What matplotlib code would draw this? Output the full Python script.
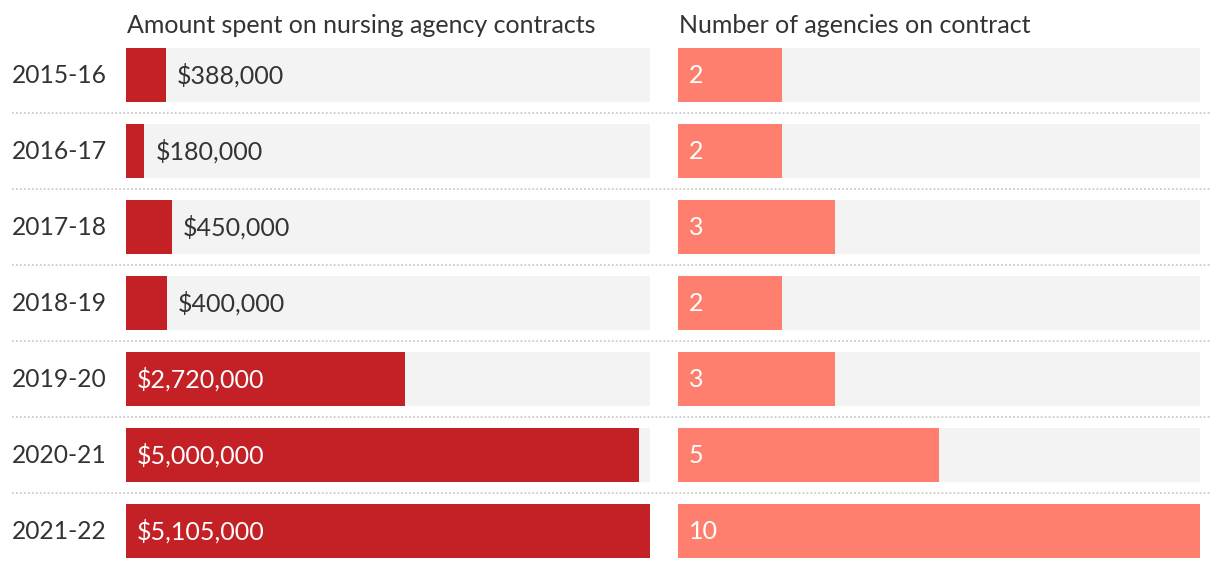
import matplotlib
matplotlib.use('Agg')
import matplotlib.pyplot as plt
import matplotlib.transforms as transforms

# Data
years = ['2015-16', '2016-17', '2017-18', '2018-19', '2019-20', '2020-21', '2021-22']
amount_spent = [388000, 180000, 450000, 400000, 2720000, 5000000, 5105000]
agencies = [2, 2, 3, 2, 3, 5, 10]

title_left = 'Amount spent on nursing agency contracts'
title_right = 'Number of agencies on contract'

# Style
plt.rcParams['font.family'] = ['Lato', 'DejaVu Sans']
dark_red = '#C42127'
salmon = '#FF7F6E'
track = '#F3F3F3'
text_col = '#333333'
W, H = 1220, 568

fig = plt.figure(figsize=(W / 100, H / 100), dpi=100)


def px_axes(x0, x1, y0, y1):
    # pixel box (top-left origin) -> figure fraction axes
    return fig.add_axes([x0 / W, 1 - y1 / H, (x1 - x0) / W, (y1 - y0) / H])


ax_l = px_axes(126, 650, 37, 569)
ax_r = px_axes(678, 1200, 37, 569)

rows = list(range(len(years)))
bar_h = 54 / 76

for ax, vals, vmax, col in [(ax_l, amount_spent, max(amount_spent), dark_red),
                            (ax_r, agencies, max(agencies), salmon)]:
    ax.set_xlim(0, vmax)
    ax.set_ylim(len(years) - 0.5, -0.5)
    ax.barh(rows, [vmax] * len(rows), height=bar_h, color=track, zorder=1)
    ax.barh(rows, vals, height=bar_h, color=col, zorder=2)
    ax.axis('off')

# Value labels, left panel (inside the bar when it is wide enough)
for i, v in enumerate(amount_spent):
    label = f'${v:,.0f}'
    if v > 1000000:
        ax_l.annotate(label, (0, i), xytext=(11, 0), textcoords='offset pixels',
                      ha='left', va='center', color='white', fontsize=18, zorder=3)
    else:
        ax_l.annotate(label, (v, i), xytext=(11, 0), textcoords='offset pixels',
                      ha='left', va='center', color=text_col, fontsize=18, zorder=3)

# Value labels, right panel
for i, v in enumerate(agencies):
    ax_r.annotate(str(v), (0, i), xytext=(11, 0), textcoords='offset pixels',
                  ha='left', va='center', color='white', fontsize=18, zorder=3)

# Panel titles
for ax, t in [(ax_l, title_left), (ax_r, title_right)]:
    ax.text(0.002, -0.5 - 4 / 76, t, transform=ax.get_yaxis_transform(),
            ha='left', va='baseline', color=text_col, fontsize=18)

# Year labels and dotted separators
fig_y = transforms.blended_transform_factory(fig.transFigure, ax_l.transData)
for i, y in enumerate(years):
    ax_l.text(12 / W, i, y, transform=fig_y, ha='left', va='center',
              color=text_col, fontsize=17.7, clip_on=False)
for i in rows[:-1]:
    ax_l.plot([12 / W, 1210 / W], [i + 0.5, i + 0.5], transform=fig_y,
              color='#CCCCCC', linestyle=(0, (1, 1.2)), linewidth=1.3, clip_on=False)

fig.savefig('out.png', dpi=100)
